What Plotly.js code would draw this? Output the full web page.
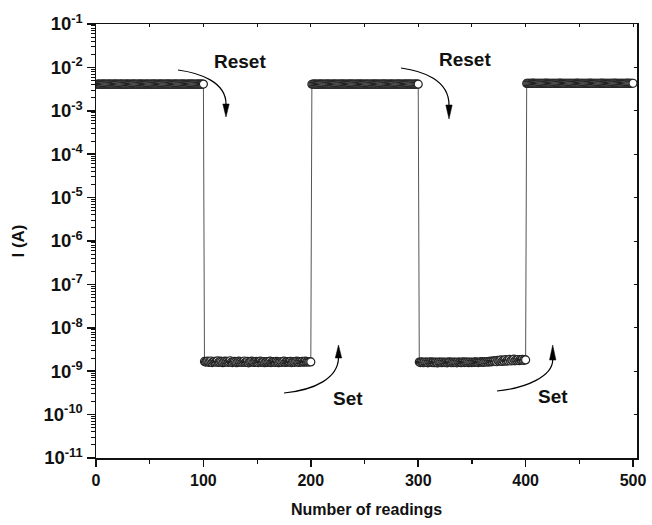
<!DOCTYPE html>
<html>
<head>
<meta charset="utf-8">
<script src="https://cdn.plot.ly/plotly-3.0.1.min.js"></script>
<style>html,body{margin:0;padding:0;background:#fff;}#chart{width:652px;height:525px;}</style>
</head>
<body>
<div id="chart"></div>
<script>
// Current readings per state segment (HRS in mA, LRS in nA), 100 readings each
const highState1_mA = [
4.10,4.12,4.11,4.09,4.10,4.13,4.12,4.10,4.11,4.08,
4.10,4.11,4.12,4.10,4.09,4.11,4.13,4.12,4.10,4.11,
4.09,4.10,4.12,4.11,4.10,4.08,4.10,4.12,4.13,4.11,
4.10,4.09,4.11,4.12,4.10,4.11,4.10,4.09,4.12,4.11,
4.13,4.10,4.11,4.10,4.08,4.10,4.12,4.11,4.10,4.09,
4.11,4.12,4.10,4.11,4.13,4.10,4.09,4.11,4.12,4.10,
4.10,4.11,4.09,4.10,4.12,4.11,4.10,4.13,4.11,4.10,
4.09,4.10,4.11,4.12,4.10,4.11,4.08,4.10,4.12,4.11,
4.10,4.12,4.11,4.09,4.10,4.11,4.13,4.10,4.11,4.12,
4.10,4.09,4.11,4.10,4.12,4.11,4.10,4.11,4.12,4.12];
const lowState1_nA = [
1.68,1.62,1.66,1.70,1.60,1.64,1.72,1.58,1.65,1.69,
1.61,1.67,1.73,1.59,1.63,1.70,1.66,1.57,1.64,1.71,
1.62,1.68,1.60,1.65,1.74,1.61,1.58,1.66,1.69,1.63,
1.57,1.64,1.70,1.62,1.67,1.59,1.65,1.72,1.60,1.63,
1.68,1.56,1.62,1.66,1.70,1.61,1.59,1.64,1.69,1.62,
1.58,1.65,1.71,1.60,1.63,1.67,1.57,1.62,1.66,1.60,
1.64,1.70,1.58,1.61,1.66,1.63,1.59,1.68,1.62,1.57,
1.63,1.67,1.60,1.65,1.71,1.59,1.62,1.66,1.61,1.64,
1.69,1.58,1.63,1.67,1.60,1.65,1.70,1.62,1.59,1.66,
1.63,1.68,1.61,1.64,1.70,1.62,1.66,1.63,1.65,1.64];
const highState2_mA = [
4.09,4.11,4.10,4.12,4.10,4.08,4.11,4.12,4.10,4.11,
4.10,4.09,4.11,4.12,4.10,4.11,4.13,4.10,4.09,4.11,
4.12,4.10,4.11,4.10,4.09,4.12,4.11,4.10,4.11,4.13,
4.10,4.11,4.09,4.10,4.12,4.11,4.10,4.12,4.11,4.10,
4.09,4.11,4.12,4.10,4.11,4.10,4.13,4.11,4.10,4.09,
4.10,4.12,4.11,4.10,4.09,4.11,4.12,4.10,4.11,4.10,
4.11,4.10,4.12,4.09,4.10,4.11,4.12,4.10,4.11,4.13,
4.10,4.09,4.11,4.10,4.12,4.11,4.10,4.09,4.11,4.12,
4.10,4.11,4.10,4.12,4.09,4.11,4.10,4.12,4.11,4.10,
4.11,4.10,4.12,4.11,4.09,4.10,4.11,4.12,4.10,4.11];
const lowState2_nA = [
1.62,1.58,1.64,1.60,1.57,1.63,1.59,1.61,1.56,1.62,
1.60,1.64,1.58,1.61,1.57,1.63,1.60,1.55,1.62,1.59,
1.61,1.57,1.63,1.60,1.58,1.62,1.56,1.60,1.64,1.59,
1.57,1.61,1.58,1.62,1.60,1.56,1.63,1.59,1.61,1.57,
1.60,1.64,1.58,1.62,1.59,1.61,1.57,1.63,1.60,1.58,
1.62,1.59,1.61,1.64,1.60,1.58,1.63,1.61,1.66,1.62,
1.60,1.65,1.63,1.67,1.62,1.68,1.64,1.70,1.66,1.73,
1.68,1.75,1.65,1.78,1.70,1.74,1.82,1.68,1.77,1.72,
1.85,1.70,1.79,1.74,1.88,1.72,1.80,1.76,1.90,1.73,
1.82,1.78,1.86,1.75,1.84,1.80,1.88,1.77,1.85,1.82];
const highState3_mA = [
4.28,4.30,4.29,4.31,4.28,4.30,4.32,4.29,4.30,4.28,
4.29,4.31,4.30,4.28,4.30,4.29,4.31,4.30,4.32,4.29,
4.30,4.28,4.29,4.31,4.30,4.29,4.28,4.30,4.31,4.29,
4.30,4.32,4.29,4.30,4.28,4.31,4.30,4.29,4.30,4.31,
4.29,4.30,4.28,4.30,4.31,4.29,4.30,4.32,4.30,4.29,
4.31,4.30,4.29,4.28,4.30,4.31,4.29,4.30,4.30,4.32,
4.29,4.31,4.30,4.29,4.28,4.30,4.31,4.30,4.29,4.30,
4.32,4.30,4.29,4.31,4.30,4.28,4.30,4.29,4.31,4.30,
4.29,4.30,4.32,4.30,4.29,4.31,4.30,4.28,4.30,4.31,
4.30,4.29,4.31,4.30,4.32,4.30,4.29,4.31,4.30,4.31];

const segments = [
  {vals: highState1_mA, unit: 1e-3},
  {vals: lowState1_nA, unit: 1e-9},
  {vals: highState2_mA, unit: 1e-3},
  {vals: lowState2_nA, unit: 1e-9},
  {vals: highState3_mA, unit: 1e-3}
];
const yTickVals = [1e-11,1e-10,1e-9,1e-8,1e-7,1e-6,1e-5,1e-4,1e-3,1e-2,1e-1];
const yTickText = ["10<sup>-11</sup>","10<sup>-10</sup>","10<sup>-9</sup>","10<sup>-8</sup>","10<sup>-7</sup>","10<sup>-6</sup>","10<sup>-5</sup>","10<sup>-4</sup>","10<sup>-3</sup>","10<sup>-2</sup>","10<sup>-1</sup>"];
const xTickVals = [0,100,200,300,400,500];

// build series
const readings = [], current = [];
let n = 0;
segments.forEach(s => s.vals.forEach(v => { n += 1; readings.push(n); current.push(v * s.unit); }));

const FONT = 'Liberation Sans, Arial, Helvetica, sans-serif';
// plot area geometry (pixels) used only for placing annotations/arrows in paper coords
const W = 652, H = 525, L = 96, R = 15, T = 24, B = 67;
const pw = W - L - R, ph = H - T - B;
const px = x => ((x - L) / pw).toFixed(4);
const py = y => ((H - B - y) / ph).toFixed(4);

function curvedArrow(p0, c1, c2, p1, tip, halfW) {
  const line = {
    type: 'path', xref: 'paper', yref: 'paper',
    path: `M ${px(p0[0])},${py(p0[1])} C ${px(c1[0])},${py(c1[1])} ${px(c2[0])},${py(c2[1])} ${px(p1[0])},${py(p1[1])}`,
    line: {color: '#000', width: 1.2}, fillcolor: 'rgba(0,0,0,0)'
  };
  const head = {
    type: 'path', xref: 'paper', yref: 'paper',
    path: `M ${px(p1[0]-halfW)},${py(p1[1])} L ${px(tip[0])},${py(tip[1])} L ${px(p1[0]+halfW)},${py(p1[1])} Z`,
    line: {color: '#000', width: 0.5}, fillcolor: '#000'
  };
  return [line, head];
}

const shapes = [].concat(
  curvedArrow([178,70],[200,73],[226,82],[226,104],[226,117],3.2),
  curvedArrow([401,68],[423,71],[449,80],[449,105],[449,119],3.2),
  curvedArrow([284,393],[315,390],[338,378],[338.5,358],[338.5,345],3.2),
  curvedArrow([497,391],[527,388],[552.5,376],[552.7,360],[552.7,345],3.2)
);

const annFont = {family: FONT, size: 19, color: '#111', weight: 'bold'};
const annotations = [
  {text: 'Reset', x: px(240), y: py(61)},
  {text: 'Reset', x: px(465), y: py(60)},
  {text: 'Set', x: px(348), y: py(398)},
  {text: 'Set', x: px(553), y: py(397)}
].map(a => ({text: a.text, x: +a.x, y: +a.y, xref: 'paper', yref: 'paper', showarrow: false,
  xanchor: 'center', yanchor: 'middle', font: annFont}));

const trace = {
  x: readings, y: current, type: 'scatter', mode: 'lines+markers',
  line: {color: '#555', width: 1},
  marker: {symbol: 'circle', size: 8, color: '#fff', line: {color: '#222', width: 1.2}},
  hoverinfo: 'skip', showlegend: false
};

const layout = {
  width: W, height: H,
  margin: {l: L, r: R, t: T, b: B},
  paper_bgcolor: '#fff', plot_bgcolor: '#fff',
  font: {family: FONT, color: '#111'},
  showlegend: false,
  xaxis: {
    range: [0, 503.7], tickmode: 'array', tickvals: xTickVals,
    ticks: 'outside', ticklen: 7, tickwidth: 1.5, tickcolor: '#111',
    minor: {dtick: 50, tick0: 0, ticks: 'outside', ticklen: 4, tickwidth: 1.2, tickcolor: '#111'},
    showline: true, linewidth: 1.5, linecolor: '#111', mirror: true,
    showgrid: false, zeroline: false,
    tickfont: {family: FONT, size: 16, color: '#111', weight: 'bold'},
    title: {text: 'Number of readings', font: {family: FONT, size: 16, color: '#111', weight: 'bold'}, standoff: 16}
  },
  yaxis: {
    type: 'log', range: [-11, -1], tickmode: 'array', tickvals: yTickVals, ticktext: yTickText,
    ticks: 'outside', ticklen: 8, tickwidth: 1.5, tickcolor: '#111',
    minor: {dtick: 'D1', ticks: 'outside', ticklen: 4, tickwidth: 1, tickcolor: '#111'},
    showline: true, linewidth: 1.5, linecolor: '#111', mirror: true,
    showgrid: false, zeroline: false,
    tickfont: {family: FONT, size: 18.5, color: '#111', weight: 'bold'},
    title: {text: 'I (A)', font: {family: FONT, size: 17, color: '#111', weight: 'bold'}, standoff: 14}
  },
  xaxis2: {
    overlaying: 'x', side: 'top', range: [0, 503.7], tickmode: 'linear', tick0: 0, dtick: 50,
    ticks: 'inside', ticklen: 3, tickwidth: 1, tickcolor: '#111', showticklabels: false,
    showgrid: false, zeroline: false, showline: false
  },
  yaxis2: {
    overlaying: 'y', side: 'right', type: 'log', range: [-11, -1], tickmode: 'array', tickvals: yTickVals,
    ticks: 'inside', ticklen: 3, tickwidth: 1, tickcolor: '#111', showticklabels: false,
    showgrid: false, zeroline: false, showline: false
  },
  shapes: shapes,
  annotations: annotations
};

const helper = {x: [null], y: [null], xaxis: 'x2', yaxis: 'y2', type: 'scatter', mode: 'markers', showlegend: false, hoverinfo: 'skip'};

Plotly.newPlot('chart', [trace, helper], layout, {staticPlot: true, displayModeBar: false});
</script>
</body>
</html>
